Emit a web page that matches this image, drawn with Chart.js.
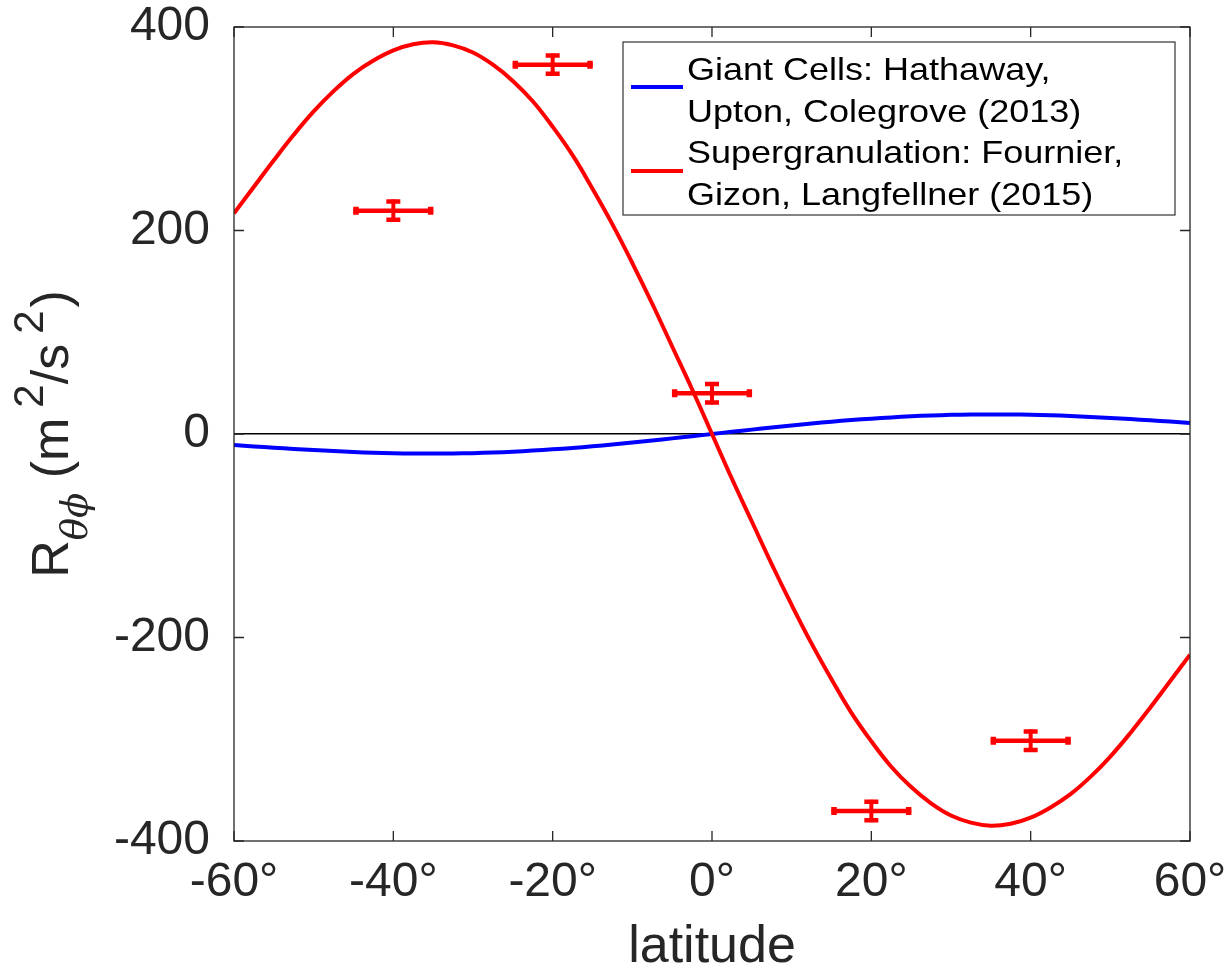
<!DOCTYPE html>
<html>
<head>
<meta charset="utf-8">
<script src="https://cdn.jsdelivr.net/npm/chart.js@4.4.1/dist/chart.umd.min.js"></script>
<style>
  html, body { margin: 0; padding: 0; background: #fff; }
  #wrap { width: 1230px; height: 971px; }
</style>
</head>
<body>
<div id="wrap"><canvas id="c" width="1230" height="971"></canvas></div>
<script>
// ---------- data ----------
const latitudes = [-60,-57.5,-55,-52.5,-50,-47.5,-45,-42.5,-40,-37.5,-35,-32.5,-30,-27.5,-25,-22.5,-20,-17.5,-15,-12.5,-10,-7.5,-5,-2.5,
                   0,2.5,5,7.5,10,12.5,15,17.5,20,22.5,25,27.5,30,32.5,35,37.5,40,42.5,45,47.5,50,52.5,55,57.5,60];
const superGranCurve = [217,243,269,294,317,337,354,367,377,383,385,382,375,363,347,327,302,274,241,206,168,128,86,44,
                        0,-44,-86,-128,-168,-206,-241,-274,-302,-327,-347,-363,-375,-382,-385,-383,-377,-367,-354,-337,-317,-294,-269,-243,-217];
const giantCellCurve = [-10.8,-12.2,-13.5,-14.7,-15.8,-16.8,-17.7,-18.4,-18.9,-19.2,-19.2,-19.1,-18.8,-18.2,-17.4,-16.3,-15.1,-13.7,-12.1,-10.3,-8.4,-6.4,-4.3,-2.2,
                        0,2.2,4.3,6.4,8.4,10.3,12.1,13.7,15.1,16.3,17.4,18.2,18.8,19.1,19.2,19.2,18.9,18.4,17.7,16.8,15.8,14.7,13.5,12.2,10.8];
const obsLat  = [-40, -20, 0, 20, 40];
const obsR    = [219.5, 363, 40, -370.5, -301.5];
const obsLatErr = [5, 5, 5, 5, 5];
const obsRErr   = [11, 11, 11, 11, 11];
const xTicks = [-60, -40, -20, 0, 20, 40, 60];
const yTicks = [-400, -200, 0, 200, 400];
const legendLabels = [
  ['Giant Cells: Hathaway,', 'Upton, Colegrove (2013)'],
  ['Supergranulation: Fournier,', 'Gizon, Langfellner (2015)']
];
const xTitle = 'latitude';

// ---------- styles ----------
const FONT = '"Liberation Sans", Arial, Helvetica, sans-serif';
const AXC = '#262626';
const RED = '#ff0000';
const BLUE = '#0000ff';

Chart.defaults.font.family = FONT;
Chart.defaults.color = AXC;

const toXY = (xs, ys) => xs.map((x, i) => ({x, y: ys[i]}));

const boxPlugin = {
  id: 'boxTicks',
  afterDraw(chart) {
    const {ctx, chartArea: a, scales: {x, y}} = chart;
    ctx.save();
    ctx.strokeStyle = AXC;
    ctx.lineWidth = 1.3;
    ctx.strokeRect(a.left, a.top, a.right - a.left, a.bottom - a.top);
    ctx.beginPath();
    xTicks.forEach(v => {
      const px = x.getPixelForValue(v);
      ctx.moveTo(px, a.bottom); ctx.lineTo(px, a.bottom - 10);
      ctx.moveTo(px, a.top); ctx.lineTo(px, a.top + 10);
    });
    yTicks.forEach(v => {
      const py = y.getPixelForValue(v);
      ctx.moveTo(a.left, py); ctx.lineTo(a.left + 10, py);
      ctx.moveTo(a.right, py); ctx.lineTo(a.right - 10, py);
    });
    ctx.stroke();
    ctx.restore();
  }
};

const errorBarPlugin = {
  id: 'errorBars',
  afterDatasetsDraw(chart) {
    const {ctx, scales: {x, y}} = chart;
    ctx.save();
    ctx.strokeStyle = RED;
    ctx.lineCap = 'butt';
    obsLat.forEach((lat, i) => {
      const cx = x.getPixelForValue(lat), cy = y.getPixelForValue(obsR[i]);
      const x0 = x.getPixelForValue(lat - obsLatErr[i]), x1 = x.getPixelForValue(lat + obsLatErr[i]);
      const y0 = y.getPixelForValue(obsR[i] + obsRErr[i]), y1 = y.getPixelForValue(obsR[i] - obsRErr[i]);
      ctx.lineWidth = 4.5;
      ctx.beginPath(); ctx.moveTo(x0, cy); ctx.lineTo(x1, cy); ctx.stroke();
      ctx.lineWidth = 5.5;
      ctx.beginPath();
      ctx.moveTo(x0 + 2.5, cy - 4); ctx.lineTo(x0 + 2.5, cy + 4);
      ctx.moveTo(x1 - 2.5, cy - 4); ctx.lineTo(x1 - 2.5, cy + 4);
      ctx.stroke();
      ctx.lineWidth = 4;
      ctx.beginPath(); ctx.moveTo(cx, y0); ctx.lineTo(cx, y1); ctx.stroke();
      ctx.lineWidth = 4.5;
      ctx.beginPath();
      ctx.moveTo(cx - 7, y0 + 2); ctx.lineTo(cx + 7, y0 + 2);
      ctx.moveTo(cx - 7, y1 - 2); ctx.lineTo(cx + 7, y1 - 2);
      ctx.stroke();
    });
    ctx.restore();
  }
};

function stretchText(ctx, text, x, y, sx) {
  ctx.save();
  ctx.translate(x, y);
  ctx.scale(sx, 1);
  ctx.fillText(text, 0, 0);
  ctx.restore();
}

const legendPlugin = {
  id: 'customLegend',
  afterDraw(chart) {
    const {ctx} = chart;
    ctx.save();
    ctx.fillStyle = '#fff';
    ctx.fillRect(623, 42, 552, 173);
    ctx.strokeStyle = '#333';
    ctx.lineWidth = 1.2;
    ctx.strokeRect(623, 42, 552, 173);
    const cols = [BLUE, RED];
    const lineY = [87, 171];
    const base = [[79.5, 121.8], [163.2, 205.3]];
    ctx.lineWidth = 4;
    cols.forEach((c, i) => {
      ctx.strokeStyle = c;
      ctx.beginPath(); ctx.moveTo(631, lineY[i]); ctx.lineTo(683, lineY[i]); ctx.stroke();
    });
    ctx.fillStyle = '#000';
    ctx.font = '32px ' + FONT;
    ctx.textBaseline = 'alphabetic';
    ctx.textAlign = 'left';
    legendLabels.forEach((lines, i) => {
      lines.forEach((t, j) => stretchText(ctx, t, 687, base[i][j], 1.125));
    });
    ctx.restore();
  }
};

const yTitlePlugin = {
  id: 'yTitle',
  afterDraw(chart) {
    const {ctx, chartArea: a} = chart;
    const main = '52px ' + FONT;
    const sup = '42px ' + FONT;
    const pieces = [
      {t: 'R', f: main, dy: 0, gap: 0},
      {t: 'θϕ', f: 'italic 37px "DejaVu Serif", serif', dy: 19, gap: 0},
      {t: ' (m', f: main, dy: 0, gap: 0},
      {t: '2', f: sup, dy: -25, gap: 10},
      {t: '/s', f: main, dy: 0, gap: 0},
      {t: '2', f: sup, dy: -25, gap: 10},
      {t: ')', f: main, dy: 0, gap: 3}
    ];
    ctx.save();
    ctx.fillStyle = AXC;
    ctx.textBaseline = 'alphabetic';
    ctx.textAlign = 'left';
    let total = 0;
    pieces.forEach(p => { ctx.font = p.f; p.w = ctx.measureText(p.t).width; total += p.gap + p.w; });
    ctx.translate(68, (a.top + a.bottom) / 2);
    ctx.rotate(-Math.PI / 2);
    let cx = -total / 2;
    pieces.forEach(p => {
      cx += p.gap;
      ctx.font = p.f;
      ctx.fillText(p.t, cx, p.dy);
      cx += p.w;
    });
    ctx.restore();
  }
};

new Chart(document.getElementById('c'), {
  type: 'scatter',
  data: {
    datasets: [
      {
        label: legendLabels[1].join(' '),
        data: toXY(latitudes, superGranCurve),
        showLine: true, borderColor: RED, borderWidth: 4, pointRadius: 0,
        tension: 0.4, order: 0
      },
      {
        label: legendLabels[0].join(' '),
        data: toXY(latitudes, giantCellCurve),
        showLine: true, borderColor: BLUE, borderWidth: 4, pointRadius: 0,
        tension: 0.4, order: 1
      },
      {
        label: 'observations',
        data: toXY(obsLat, obsR),
        showLine: false, pointRadius: 0, borderColor: RED, order: 2
      }
    ]
  },
  options: {
    responsive: false,
    animation: false,
    layout: { padding: { left: 0, right: 40, top: 27, bottom: 0 } },
    plugins: { legend: { display: false }, tooltip: { enabled: false } },
    scales: {
      x: {
        type: 'linear', min: -60, max: 60,
        afterBuildTicks: s => { s.ticks = xTicks.map(v => ({value: v})); },
        afterFit: s => { s.height = 130; s.paddingLeft = 0; s.paddingRight = 0; },
        ticks: {
          callback: v => v + '°',
          font: { size: 48, lineHeight: 1 }, color: AXC, padding: 18, maxRotation: 0, autoSkip: false
        },
        grid: { display: false, drawTicks: false },
        border: { display: false },
        title: { display: true, text: xTitle, font: { size: 52, lineHeight: 0.9 }, color: AXC, padding: { top: 0, bottom: 0 } }
      },
      y: {
        type: 'linear', min: -400, max: 400,
        afterBuildTicks: s => { s.ticks = yTicks.map(v => ({value: v})); },
        afterFit: s => { s.width = 234; s.paddingTop = 0; s.paddingBottom = 0; },
        ticks: { font: { size: 48, lineHeight: 1 }, color: AXC, padding: 24, autoSkip: false },
        grid: {
          drawTicks: false,
          color: c => (c.tick && c.tick.value === 0) ? '#000' : 'rgba(0,0,0,0)',
          lineWidth: 1.5
        },
        border: { display: false }
      }
    }
  },
  plugins: [errorBarPlugin, boxPlugin, legendPlugin, yTitlePlugin]
});
</script>
</body>
</html>
